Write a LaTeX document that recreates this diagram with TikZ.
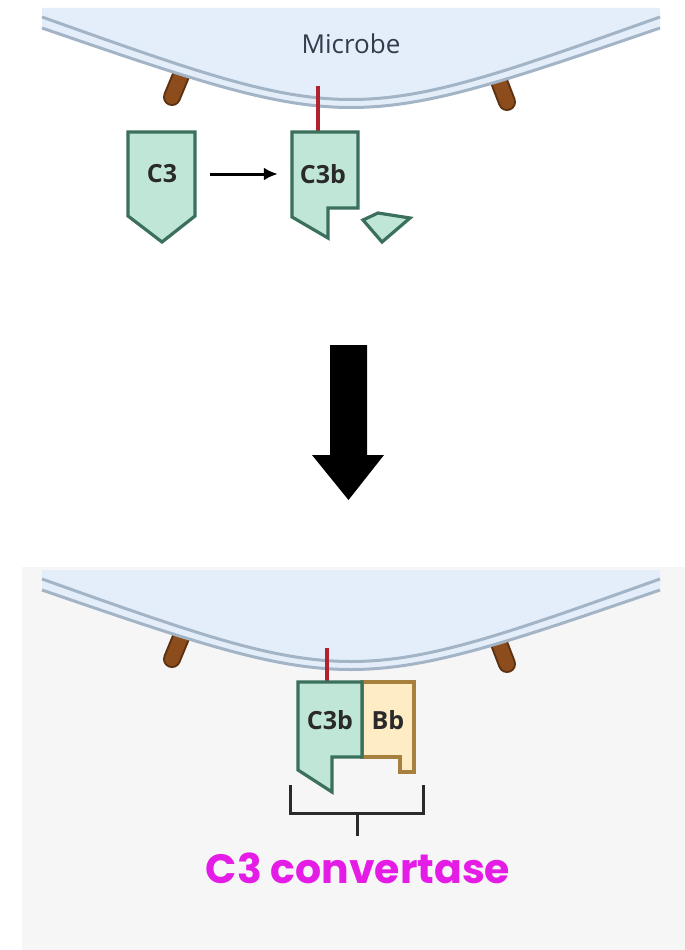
\documentclass[tikz,border=0pt]{standalone}
\usepackage{fontspec}
\usetikzlibrary{arrows.meta}
\setmainfont{Open Sans}
\newfontfamily\convfont{Poppins}

\definecolor{mintfill}{RGB}{191,230,214}
\definecolor{mintline}{RGB}{58,112,92}
\definecolor{bbfill}{RGB}{253,236,196}
\definecolor{bbline}{RGB}{168,128,62}
\definecolor{cellfill}{RGB}{228,238,250}
\definecolor{cellwall}{RGB}{163,180,198}
\definecolor{pegbrown}{RGB}{140,76,28}
\definecolor{pegdark}{RGB}{92,50,18}
\definecolor{anchorred}{RGB}{176,35,46}
\definecolor{panelgray}{RGB}{246,246,247}
\definecolor{convmagenta}{RGB}{228,28,230}
\definecolor{labelgray}{RGB}{42,42,42}

\tikzset{
  mint/.style={fill=mintfill, draw=mintline, line width=3.2pt, line join=miter},
  bbpart/.style={fill=bbfill, draw=bbline, line width=3.2pt, line join=miter},
  protlabel/.style={font=\bfseries\fontsize{25}{30}\selectfont, text=labelgray, inner sep=0pt},
  peg/.style={draw=pegbrown, line width=14pt, line cap=round,
    preaction={draw=pegdark, line width=18pt, line cap=round}},
  wall/.style={draw=cellwall, line width=3pt},
  anchor line/.style={draw=anchorred, line width=4pt},
  microbe/.pic={
    % pegs sit behind the cell surface
    \draw[peg] (189,56) -- (172,97);
    \draw[peg] (490,58) -- (507,102);
    \fill[cellfill] (42,8) -- (660,8) -- (660,28) .. controls (351,134) .. (42,28) -- cycle;
    \draw[wall] (42,17) .. controls (351,127) .. (660,17);
    \draw[wall] (42,28) .. controls (351,134) .. (660,28);
  }
}

\begin{document}
\begin{tikzpicture}[x=1pt, y=-1pt]
    \useasboundingbox (0,0) rectangle (685,950);
    \fill[white] (0,0) rectangle (685,950);

    % Cleavage of C3
    \pic at (0,0) {microbe};
    \node[font=\fontsize{26}{30}\selectfont, text={rgb,255:red,52;green,60;blue,76}] (microbe) at (351,44) {Microbe};

    \draw[mint] (128,132) -- (195,132) -- (195,216) -- (162,242) -- (128,216) -- cycle;
    \node[protlabel] (c3) at (162,174) {C3};

    \draw[anchor line] (318,86) -- (318,132);
    \draw[mint] (292,132) -- (358,132) -- (358,208) -- (328,208) -- (328,238) -- (292,217) -- cycle;
    \node[protlabel] (c3b) at (323,174) {C3b};
    \draw[mint] (363,220) -- (378,213) -- (410,218) -- (382,242) -- cycle;

    \draw[-{Latex[length=14pt,width=13pt]}, line width=3pt, shorten <=33pt, shorten >=22pt] (c3) -- (c3b);

    % Big step arrow
    \fill[black] (330,345) -- (367,345) -- (367,455) -- (384,455) -- (348.5,500)
        -- (312,455) -- (330,455) -- cycle;

    % Convertase on the surface
    \fill[panelgray] (22,567) rectangle (685,950);
    \pic at (0,562) {microbe};

    \draw[anchor line] (327,648) -- (327,682);
    \draw[bbpart] (362,682) -- (414,682) -- (414,772) -- (400,772) -- (400,757) -- (362,757) -- cycle;
    \draw[mint] (298,682) -- (362,682) -- (362,757) -- (332,757) -- (332,792) -- (298,770) -- cycle;
    \node[protlabel] (c3bb) at (330,720) {C3b};
    \node[protlabel] (bb) at (388,720) {Bb};

    \coordinate (brL) at (290,785);
    \coordinate (brR) at (423,785);
    \coordinate (brM) at (357,813);
    \coordinate (brT) at (357,836);
    \draw[line width=3pt, labelgray] (brL) |- (brR |- brM) -- (brR);
    \draw[line width=3pt, labelgray] (brM) -- (brT);
    \node[font=\convfont\bfseries\fontsize{41}{46}\selectfont, text=convmagenta] (conv) at (358,868) {C3 convertase};
\end{tikzpicture}
\end{document}
